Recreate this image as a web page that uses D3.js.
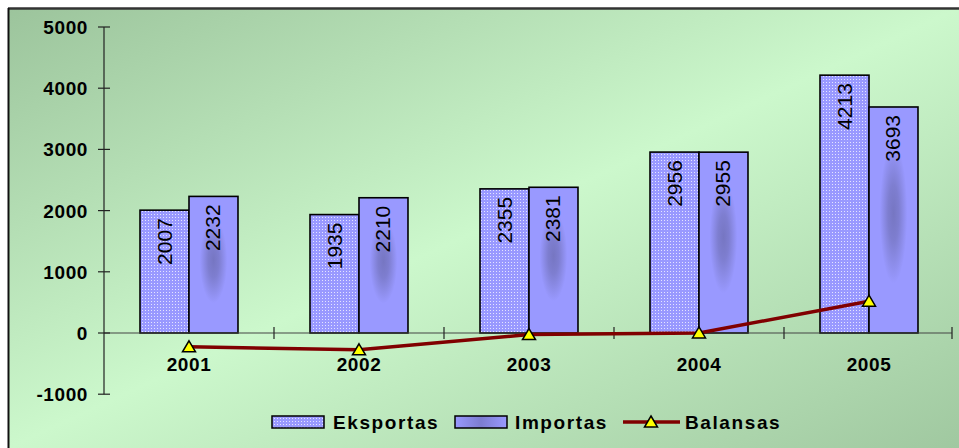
<!DOCTYPE html>
<html><head><meta charset="utf-8">
<script src="https://cdn.jsdelivr.net/npm/d3@7"></script>
<style>html,body{margin:0;padding:0;background:#fff;overflow:hidden}svg{display:block}</style>
</head><body>
<svg id="chart" width="959" height="448"></svg>
<script>
const years = ["2001","2002","2003","2004","2005"];
const seriesNames = ["Eksportas","Importas","Balansas"];
const eksportas = [2007,1935,2355,2956,4213];
const importas = [2232,2210,2381,2955,3693];
const balansas = [-225,-275,-26,1,520];
const yTicks = [-1000,0,1000,2000,3000,4000,5000];

const svg = d3.select("#chart");
const defs = svg.append("defs");

// background gradient
const bg = defs.append("linearGradient").attr("id","bg").attr("x1","0").attr("y1","0").attr("x2","1").attr("y2","1");
bg.append("stop").attr("offset","0").attr("stop-color","#9cc49c");
bg.append("stop").attr("offset","0.5").attr("stop-color","#ccf8cc");
bg.append("stop").attr("offset","1").attr("stop-color","#a0c8a0");

// dotted pattern for Eksportas
const pat = defs.append("pattern").attr("id","dots").attr("width",3).attr("height",3).attr("patternUnits","userSpaceOnUse");
pat.append("rect").attr("width",3).attr("height",3).attr("fill","#9999ff");
pat.append("rect").attr("x",1).attr("y",1).attr("width",1).attr("height",1).attr("fill","#e4e4ff");

// radial shade for Importas
const rg = defs.append("radialGradient").attr("id","shade").attr("cx",0.5).attr("cy",0.5).attr("r",0.5)
  .attr("gradientTransform","translate(0.5,0.47) scale(0.56,0.62) translate(-0.5,-0.5)");
rg.append("stop").attr("offset","0").attr("stop-color","#7676c2");
rg.append("stop").attr("offset","0.4").attr("stop-color","#7e7ed0");
rg.append("stop").attr("offset","1").attr("stop-color","#9999ff");
const lg = defs.append("linearGradient").attr("id","shadeL").attr("x1",0).attr("x2",1).attr("y1",0).attr("y2",0);
lg.append("stop").attr("offset","0").attr("stop-color","#9999ff");
lg.append("stop").attr("offset","0.5").attr("stop-color","#7c7cd0");
lg.append("stop").attr("offset","1").attr("stop-color","#9999ff");

// background + border
svg.append("rect").attr("x",8).attr("y",8).attr("width",951).attr("height",440).attr("fill","url(#bg)");
svg.append("line").attr("x1",8).attr("x2",959).attr("y1",8.5).attr("y2",8.5).attr("stroke","#333").attr("stroke-width",2.5);
svg.append("line").attr("x1",8.5).attr("x2",8.5).attr("y1",8).attr("y2",448).attr("stroke","#111").attr("stroke-width",2);

const y = d3.scaleLinear().domain([-1000,5000]).range([394.2,27]);
const x0 = d3.scaleBand().domain(years).range([104,954]).paddingInner(0).paddingOuter(0);
const x1 = d3.scaleBand().domain(["Eksportas","Importas"]).range([0,x0.bandwidth()]).paddingInner(0).paddingOuter(0.735);

const font = "Arial, 'Liberation Sans', sans-serif";

// bars
const g = svg.append("g");
years.forEach((yr,i)=>{
  const vals = [["Eksportas",eksportas[i],"url(#dots)"],["Importas",importas[i],"url(#shade)"]];
  vals.forEach(([s,v,f])=>{
    const bx = x0(yr)+x1(s), bw = x1.bandwidth();
    g.append("rect").attr("x",bx).attr("y",y(v)).attr("width",bw).attr("height",y(0)-y(v))
      .attr("fill",f).attr("stroke","#000").attr("stroke-width",1.6);
    g.append("text").attr("transform",`translate(${bx+bw/2+7},${y(v)+8}) rotate(-90)`)
      .attr("text-anchor","end").attr("font-family",font).attr("font-size",21).attr("fill","#000").text(v);
  });
});

// x axis line at 0
svg.append("line").attr("x1",104).attr("x2",952).attr("y1",y(0)).attr("y2",y(0)).attr("stroke","#444").attr("stroke-width",1.2);
const bounds = years.map(yr=>x0(yr)).concat([x0(years[years.length-1])+x0.bandwidth()-2]);
bounds.slice(1).forEach(bx=>{
  svg.append("line").attr("x1",bx).attr("x2",bx).attr("y1",y(0)-6).attr("y2",y(0)+6).attr("stroke","#222").attr("stroke-width",1.2);
});
// category labels
years.forEach(yr=>{
  svg.append("text").attr("x",x0(yr)+x0.bandwidth()/2).attr("y",371).attr("text-anchor","middle")
    .attr("font-family",font).attr("font-weight","bold").attr("font-size",19).attr("letter-spacing",0.6).text(yr);
});

// y axis
svg.append("line").attr("x1",104).attr("x2",104).attr("y1",y(5000)).attr("y2",y(-1000)).attr("stroke","#222").attr("stroke-width",1.2);
yTicks.forEach(t=>{
  svg.append("line").attr("x1",98).attr("x2",110).attr("y1",y(t)).attr("y2",y(t)).attr("stroke","#222").attr("stroke-width",1.2);
  svg.append("text").attr("x",88).attr("y",y(t)+7).attr("text-anchor","end")
    .attr("font-family",font).attr("font-weight","bold").attr("font-size",19).attr("letter-spacing",0.6).text(t);
});

// line
const line = d3.line().x((d,i)=>x0(years[i])+x0.bandwidth()/2).y(d=>y(d));
svg.append("path").datum(balansas).attr("d",line).attr("fill","none").attr("stroke","#800000").attr("stroke-width",3.5);
const tri = "M0,-6L6.5,5L-6.5,5Z";
balansas.forEach((v,i)=>{
  svg.append("path").attr("d",tri).attr("transform",`translate(${x0(years[i])+x0.bandwidth()/2},${y(v)})`)
    .attr("fill","#ffff00").attr("stroke","#000").attr("stroke-width",1.5);
});

// legend
const lgY = 422;
const legendFont = (sel)=>sel.attr("font-family",font).attr("font-weight","bold").attr("font-size",19).attr("letter-spacing",1.6);
svg.append("rect").attr("x",272).attr("y",lgY-6).attr("width",52).attr("height",12).attr("fill","url(#dots)").attr("stroke","#000").attr("stroke-width",1.5);
legendFont(svg.append("text").attr("x",333).attr("y",lgY+7).text(seriesNames[0]));
svg.append("rect").attr("x",455).attr("y",lgY-6).attr("width",52).attr("height",12).attr("fill","url(#shadeL)").attr("stroke","#000").attr("stroke-width",1.5);
legendFont(svg.append("text").attr("x",515).attr("y",lgY+7).text(seriesNames[1]));
svg.append("line").attr("x1",623).attr("x2",680).attr("y1",lgY).attr("y2",lgY).attr("stroke","#800000").attr("stroke-width",3.5);
svg.append("path").attr("d",tri).attr("transform",`translate(651,${lgY})`).attr("fill","#ffff00").attr("stroke","#000").attr("stroke-width",1.5);
legendFont(svg.append("text").attr("x",685).attr("y",lgY+7).text(seriesNames[2]));
</script>
</body></html>
